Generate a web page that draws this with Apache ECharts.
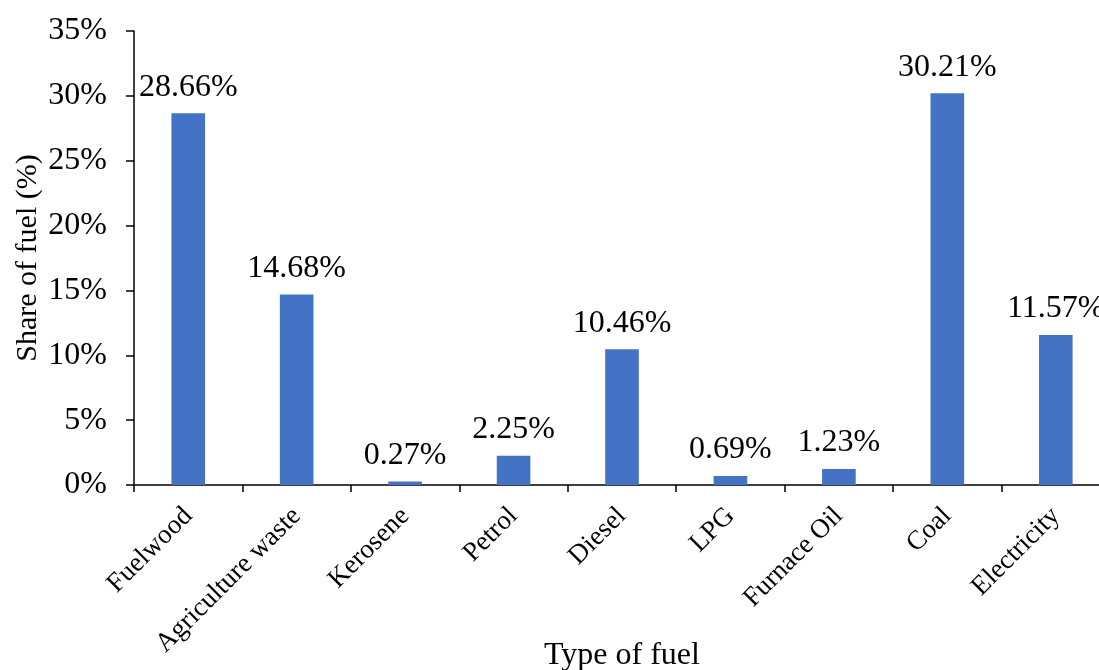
<!DOCTYPE html>
<html>
<head>
<meta charset="utf-8">
<style>
  html, body { margin: 0; padding: 0; background: #fff; }
  #chart { width: 1099px; height: 670px; }
</style>
<script src="https://cdn.jsdelivr.net/npm/echarts@6/dist/echarts.min.js"></script>
</head>
<body>
<div id="chart"></div>
<script>
// Fuel types and their share of total fuel use (%)
const categories = ['Fuelwood', 'Agriculture waste', 'Kerosene', 'Petrol', 'Diesel', 'LPG', 'Furnace Oil', 'Coal', 'Electricity'];
const shares = [28.66, 14.68, 0.27, 2.25, 10.46, 0.69, 1.23, 30.21, 11.57];

const FONT = '"Liberation Serif", "Times New Roman", serif';

const chart = echarts.init(document.getElementById('chart'));
chart.setOption({
  animation: false,
  backgroundColor: '#ffffff',
  textStyle: { fontFamily: FONT, color: '#000' },
  grid: { left: 134, right: -11, top: 31, bottom: 185, containLabel: false, outerBoundsMode: 'none' },
  xAxis: {
    type: 'category',
    data: categories,
    name: 'Type of fuel',
    nameLocation: 'middle',
    nameGap: 155,
    nameMoveOverlap: false,
    nameTextStyle: { fontFamily: FONT, fontSize: 32, color: '#000' },
    axisLine: { show: true, lineStyle: { color: '#000', width: 1.5 } },
    axisTick: { show: true, alignWithLabel: false, length: 7, lineStyle: { color: '#000', width: 1.5 } },
    axisLabel: { rotate: 45, margin: 27, interval: 0, fontFamily: FONT, fontSize: 27, color: '#000' },
    splitLine: { show: false }
  },
  yAxis: {
    type: 'value',
    min: 0,
    max: 35,
    interval: 5,
    name: 'Share of fuel (%)',
    nameLocation: 'middle',
    nameGap: 91,
    nameMoveOverlap: false,
    nameRotate: 90,
    nameTextStyle: { fontFamily: FONT, fontSize: 30, color: '#000' },
    axisLine: { show: true, lineStyle: { color: '#000', width: 1.5 } },
    axisTick: { show: true, length: 8, lineStyle: { color: '#000', width: 1.5 } },
    axisLabel: { formatter: '{value}%', margin: 27, fontFamily: FONT, fontSize: 32, color: '#000' },
    splitLine: { show: false }
  },
  series: [{
    type: 'bar',
    data: shares,
    barWidth: '31%',
    itemStyle: { color: '#4472C4' },
    label: {
      show: true,
      position: 'top',
      distance: 10,
      formatter: p => p.value.toFixed(2) + '%',
      fontFamily: FONT,
      fontSize: 32,
      color: '#000'
    }
  }]
});
</script>
</body>
</html>
